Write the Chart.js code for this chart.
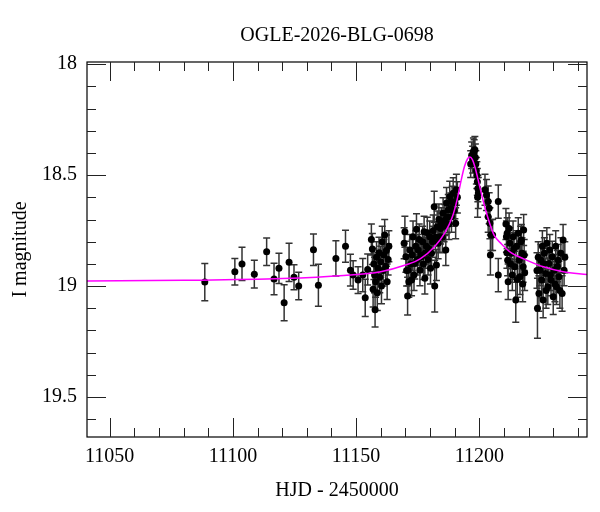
<!DOCTYPE html>
<html>
<head>
<meta charset="utf-8">
<title>OGLE-2026-BLG-0698</title>
<script src="https://cdn.jsdelivr.net/npm/chart.js@4.4.1/dist/chart.umd.min.js"></script>
<style>
  html, body { margin: 0; padding: 0; background: #fff; }
  canvas { display: block; }
</style>
</head>
<body>
<canvas id="lightcurve" width="600" height="512"></canvas>
<script>
// photometry (HJD - 2450000, I mag, error)
const hjd = [
  11088.6, 11100.8, 11103.7, 11108.7, 11113.7, 11116.7, 11118.7, 11120.8, 11122.8, 11124.8,
  11126.7, 11132.7, 11134.7, 11141.8, 11145.7, 11147.7, 11148.8, 11150.8, 11152.7, 11153.7,
  11154.7, 11156.2, 11156.6, 11156.9, 11157.2, 11157.5, 11157.7, 11157.9, 11158.3, 11158.6,
  11158.9, 11159.3, 11159.6, 11160.0, 11160.3, 11160.6, 11161.0, 11161.3, 11161.6, 11162.0,
  11162.3, 11162.6, 11163.0, 11163.3,
  11169.5, 11169.8, 11170.2, 11170.5, 11170.9, 11171.1, 11171.4, 11171.8, 11172.2, 11172.5,
  11172.8, 11173.1, 11173.5, 11173.8, 11174.2, 11174.5, 11174.9, 11175.2, 11175.6, 11175.9,
  11176.3, 11176.6, 11177.0, 11177.3, 11177.6, 11177.9, 11178.2, 11178.5, 11178.9, 11179.2,
  11179.5, 11179.9, 11180.2, 11180.6, 11181.0, 11181.3, 11181.7, 11181.9, 11182.2, 11182.6,
  11182.9, 11183.3, 11183.6, 11184.0, 11184.3, 11184.6, 11185.0, 11185.3, 11185.7, 11186.0,
  11186.4, 11186.7, 11187.0, 11187.4, 11187.7, 11188.0, 11188.4, 11188.7, 11189.0, 11189.4,
  11189.7, 11190.1, 11190.4, 11190.7, 11191.1,
  11196.5, 11196.9, 11197.3, 11197.6, 11197.9, 11198.2, 11198.4, 11198.6, 11198.8, 11199.0,
  11199.2, 11199.4, 11199.3, 11199.6,
  11202.3, 11202.9, 11203.6, 11204.0, 11203.6, 11204.3, 11204.7, 11204.5, 11205.4, 11207.7,
  11207.7,
  11210.8, 11211.0, 11211.2, 11211.3, 11211.5, 11211.7, 11212.1, 11212.4, 11212.7, 11213.1,
  11213.4, 11213.7, 11214.1, 11214.4, 11214.8, 11215.1, 11215.4, 11215.8, 11216.2, 11216.5,
  11216.8, 11217.1, 11217.3, 11217.6, 11217.8, 11218.0, 11218.2, 11218.4,
  11223.4, 11223.6, 11223.9, 11224.2, 11224.6, 11225.0, 11225.3, 11225.6, 11225.9, 11226.1,
  11226.4, 11226.9, 11227.1, 11227.4, 11227.8, 11228.2, 11228.6, 11228.9, 11229.1, 11229.6,
  11230.0, 11230.4, 11230.7, 11231.0, 11231.3, 11231.7, 11232.0, 11232.3, 11232.7, 11233.1,
  11233.6, 11234.0, 11234.4, 11234.7
];
const mag = [
  18.982, 18.935, 18.900, 18.946, 18.845, 18.968, 18.920, 19.075, 18.893, 18.960,
  18.999, 18.836, 18.996, 18.875, 18.820, 18.928, 18.950, 18.973, 18.950, 19.053,
  18.925, 18.790, 18.833, 19.014, 18.900, 18.950, 19.107, 18.980, 18.870, 19.030,
  18.920, 18.850, 18.960, 18.890, 19.000, 18.800, 18.930, 18.860, 18.770, 18.910,
  18.840, 18.980, 18.880, 18.820,
  18.807, 18.755, 18.868, 18.930, 19.045, 18.928, 18.980, 18.837, 18.900, 18.973,
  18.860, 18.777, 18.950, 18.898, 18.820, 18.744, 18.880, 18.837, 18.790, 18.928,
  18.860, 18.868, 18.800, 18.900, 18.755, 18.965, 18.850, 18.820, 18.760, 18.880,
  18.830, 18.777, 18.920, 18.852, 18.800, 18.750, 18.642, 19.000, 18.780, 18.905,
  18.732, 18.807, 18.700, 18.777, 18.740, 18.717, 18.780, 18.672, 18.730, 18.702,
  18.837, 18.626, 18.690, 18.657, 18.720, 18.597, 18.650, 18.687, 18.620, 18.582,
  18.660, 18.626, 18.717, 18.566, 18.600,
  18.450, 18.410, 18.430, 18.393, 18.400, 18.386, 18.420, 18.450, 18.480, 18.500,
  18.530, 18.560, 18.600, 18.580,
  18.566, 18.589, 18.619, 18.649, 18.687, 18.717, 18.770, 18.860, 18.770, 18.619,
  18.950,
  18.720, 18.777, 18.850, 18.762, 18.883, 18.980, 18.740, 18.807, 18.900, 18.852,
  18.950, 18.777, 18.830, 18.913, 19.063, 18.820, 18.970, 18.762, 18.883, 18.958,
  18.800, 18.792, 18.852, 18.990, 18.913, 18.747, 18.860, 18.940,
  18.930, 19.100, 18.870, 19.033, 18.928, 18.883, 18.973, 18.820, 19.063, 18.900,
  18.852, 18.943, 19.020, 18.807, 19.003, 18.898, 18.837, 18.950, 18.973, 18.868,
  19.048, 18.928, 18.990, 18.820, 19.003, 18.910, 18.883, 18.958, 19.020, 18.852,
  19.033, 18.792, 18.928, 18.870
];
const magErr = [
  0.084, 0.060, 0.075, 0.062, 0.062, 0.071, 0.068, 0.081, 0.086, 0.056,
  0.062, 0.071, 0.095, 0.079, 0.072, 0.072, 0.064, 0.060, 0.075, 0.084,
  0.070, 0.070, 0.070, 0.080, 0.070, 0.080, 0.077, 0.070, 0.070, 0.080,
  0.070, 0.070, 0.070, 0.070, 0.080, 0.070, 0.070, 0.070, 0.070, 0.070,
  0.070, 0.080, 0.070, 0.070,
  0.070, 0.070, 0.070, 0.070, 0.085, 0.070, 0.070, 0.070, 0.070, 0.070,
  0.070, 0.070, 0.070, 0.070, 0.070, 0.070, 0.070, 0.070, 0.070, 0.070,
  0.070, 0.070, 0.070, 0.070, 0.070, 0.070, 0.070, 0.070, 0.070, 0.070,
  0.070, 0.070, 0.070, 0.070, 0.070, 0.070, 0.070, 0.117, 0.070, 0.070,
  0.070, 0.070, 0.070, 0.070, 0.070, 0.070, 0.070, 0.070, 0.070, 0.070,
  0.070, 0.070, 0.070, 0.070, 0.070, 0.070, 0.070, 0.070, 0.070, 0.070,
  0.070, 0.070, 0.070, 0.070, 0.070,
  0.060, 0.060, 0.060, 0.060, 0.060, 0.060, 0.060, 0.060, 0.060, 0.060,
  0.060, 0.060, 0.090, 0.070,
  0.070, 0.070, 0.070, 0.070, 0.070, 0.070, 0.070, 0.090, 0.070, 0.075,
  0.075,
  0.070, 0.070, 0.070, 0.070, 0.070, 0.080, 0.070, 0.070, 0.070, 0.070,
  0.070, 0.070, 0.070, 0.070, 0.100, 0.070, 0.080, 0.070, 0.070, 0.080,
  0.070, 0.070, 0.070, 0.080, 0.070, 0.070, 0.070, 0.080,
  0.080, 0.135, 0.070, 0.080, 0.070, 0.070, 0.080, 0.070, 0.080, 0.070,
  0.070, 0.070, 0.080, 0.070, 0.080, 0.070, 0.070, 0.070, 0.070, 0.070,
  0.080, 0.070, 0.080, 0.070, 0.080, 0.070, 0.070, 0.070, 0.080, 0.070,
  0.080, 0.070, 0.070, 0.070
];

// model light curve
const modelHjd = [
  11040.8, 11080, 11120, 11145, 11160, 11170, 11176, 11182, 11186, 11189,
  11191, 11192.5, 11194, 11195.3, 11196.2, 11197.2, 11198.2, 11199.5, 11201, 11202.5,
  11204, 11206, 11209, 11213, 11218, 11226, 11234, 11243.7
];
const modelMag = [
  18.977, 18.974, 18.966, 18.952, 18.935, 18.905, 18.877, 18.820, 18.760, 18.690,
  18.610, 18.530, 18.460, 18.425, 18.418, 18.430, 18.462, 18.520, 18.590, 18.655,
  18.710, 18.770, 18.810, 18.850, 18.877, 18.913, 18.935, 18.948
];

const xTicks = [11050, 11100, 11150, 11200];
const yTicks = [18, 18.5, 19, 19.5];

const serif = "'Liberation Serif', 'Times New Roman', serif";

// vertical error bars with caps, drawn under the points
const errorBars = {
  id: 'errorBars',
  beforeDatasetsDraw(chart) {
    const { ctx, chartArea: a, scales: { x, y } } = chart;
    ctx.save();
    ctx.beginPath();
    ctx.rect(a.left, a.top, a.right - a.left, a.bottom - a.top);
    ctx.clip();
    ctx.strokeStyle = '#333';
    ctx.lineWidth = 1.5;
    hjd.forEach((t, i) => {
      const px = x.getPixelForValue(t);
      const top = y.getPixelForValue(mag[i] - magErr[i]);
      const bot = y.getPixelForValue(mag[i] + magErr[i]);
      ctx.beginPath();
      ctx.moveTo(px, top); ctx.lineTo(px, bot);
      ctx.moveTo(px - 3.5, top); ctx.lineTo(px + 3.5, top);
      ctx.moveTo(px - 3.5, bot); ctx.lineTo(px + 3.5, bot);
      ctx.stroke();
    });
    ctx.restore();
  }
};

// box with inward ticks on all four sides
const frame = {
  id: 'frame',
  afterDraw(chart) {
    const { ctx, chartArea: a, scales: { x, y } } = chart;
    ctx.save();
    ctx.strokeStyle = '#000';
    ctx.lineWidth = 1.2;
    ctx.strokeRect(a.left, a.top, a.right - a.left, a.bottom - a.top);
    ctx.lineWidth = 1;
    ctx.strokeStyle = '#222';
    ctx.beginPath();
    for (let v = 11050; v <= x.max; v += 10) {
      const px = Math.round(x.getPixelForValue(v)) + 0.5;
      const len = v % 50 === 0 ? 19 : 9;
      ctx.moveTo(px, a.bottom); ctx.lineTo(px, a.bottom - len);
      ctx.moveTo(px, a.top); ctx.lineTo(px, a.top + len);
    }
    for (let k = 180; k <= 196; k++) {
      const py = Math.round(y.getPixelForValue(k / 10)) + 0.5;
      const len = k % 5 === 0 ? 19 : 9;
      ctx.moveTo(a.left, py); ctx.lineTo(a.left + len, py);
      ctx.moveTo(a.right, py); ctx.lineTo(a.right - len, py);
    }
    ctx.stroke();
    ctx.restore();
  }
};

document.addEventListener("DOMContentLoaded", function() {
  const ctx = document.getElementById('lightcurve').getContext('2d');

  new Chart(ctx, {
    type: 'scatter',
    data: {
      datasets: [{
        label: 'model',
        data: modelHjd.map((t, i) => ({ x: t, y: modelMag[i] })),
        showLine: true,
        borderColor: '#ff00ff',
        borderWidth: 1.5,
        pointRadius: 0,
        cubicInterpolationMode: 'monotone',
        fill: false
      }, {
        label: 'OGLE I',
        data: hjd.map((t, i) => ({ x: t, y: mag[i] })),
        pointRadius: 3.5,
        backgroundColor: '#000',
        borderColor: '#000',
        borderWidth: 0
      }]
    },
    options: {
      responsive: false,
      animation: false,
      devicePixelRatio: 1,
      layout: { padding: { left: 0, right: 13, top: 0, bottom: 0 } },
      plugins: {
        legend: { display: false },
        tooltip: { enabled: false },
        title: {
          display: true,
          text: 'OGLE-2026-BLG-0698',
          fullSize: false,
          color: '#000',
          font: { family: serif, size: 20, weight: 'normal' },
          padding: { top: 24, bottom: 14 }
        }
      },
      scales: {
        x: {
          type: 'linear',
          min: 11040.8,
          max: 11243.7,
          grid: { display: false, drawTicks: false },
          border: { display: false },
          afterBuildTicks: s => { s.ticks = xTicks.map(v => ({ value: v })); },
          afterFit: s => { s.height = 75; },
          ticks: {
            color: '#000',
            font: { family: serif, size: 20 },
            padding: 8,
            maxRotation: 0,
            callback: v => String(v)
          },
          title: {
            display: true,
            text: 'HJD - 2450000',
            color: '#000',
            font: { family: serif, size: 20 },
            padding: { top: 0, bottom: 9 }
          }
        },
        y: {
          type: 'linear',
          reverse: true,
          min: 17.99,
          max: 19.68,
          grid: { display: false, drawTicks: false },
          border: { display: false },
          afterBuildTicks: s => { s.ticks = yTicks.map(v => ({ value: v })); },
          afterFit: s => { s.width = 87; },
          ticks: {
            color: '#000',
            font: { family: serif, size: 20 },
            padding: 10,
            callback: v => String(v)
          },
          title: {
            display: true,
            text: 'I magnitude',
            color: '#000',
            font: { family: serif, size: 20 },
            padding: { top: 9, bottom: 0 }
          }
        }
      }
    },
    plugins: [errorBars, frame]
  });
});
</script>
</body>
</html>
